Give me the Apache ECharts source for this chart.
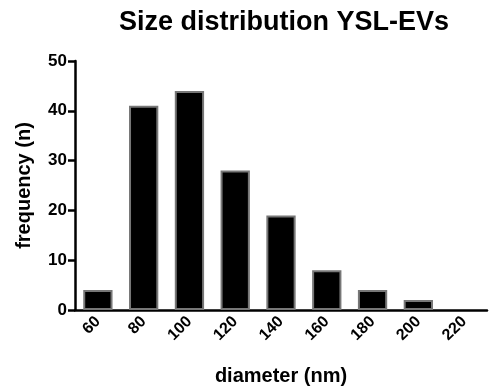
<!DOCTYPE html>
<html><head><meta charset="utf-8">
<script src="https://cdn.jsdelivr.net/npm/echarts@6/dist/echarts.min.js"></script>
<style>html,body{margin:0;padding:0;background:#fff}#c{width:489px;height:392px}</style>
</head><body><div id="c"></div>
<script>
const categories = ['60','80','100','120','140','160','180','200','220'];
const frequency = [4, 41, 44, 28, 19, 8, 4, 2, 0];
const yTicks = [0, 10, 20, 30, 40, 50];

const chart = echarts.init(document.getElementById('c'), null, {renderer:'canvas'});
const FF = '"Liberation Sans", Arial, sans-serif';
chart.setOption({
  animation:false,
  title:{text:'Size distribution YSL-EVs', left:279, textAlign:'center', top:4,
    textStyle:{fontFamily:FF, fontWeight:'bold', fontSize:27, color:'#000'}},
  grid:{left:75, right:2, top:61, bottom:82, containLabel:false, outerBoundsMode:'none'},
  xAxis:{type:'category', data:categories,
    name:'diameter (nm)', nameLocation:'middle', nameGap:56,
    nameTextStyle:{fontFamily:FF, fontWeight:'bold', fontSize:20, color:'#000'},
    axisLine:{lineStyle:{color:'#000', width:2.5}},
    axisTick:{alignWithLabel:true, length:7, lineStyle:{color:'#000', width:2.5}},
    axisLabel:{rotate:45, fontFamily:FF, fontWeight:'bold', fontSize:16, color:'#000', margin:9}},
  yAxis:{type:'value', min:0, max:50, interval:10,
    name:'frequency (n)', nameLocation:'middle', nameGap:41,
    nameTextStyle:{fontFamily:FF, fontWeight:'bold', fontSize:20, color:'#000'},
    axisLine:{show:true, lineStyle:{color:'#000', width:2.5}},
    axisTick:{show:true, length:7, lineStyle:{color:'#000', width:2.5}},
    splitLine:{show:false},
    axisLabel:{fontFamily:FF, fontWeight:'bold', fontSize:17, color:'#000', margin:8,
      formatter:v=>yTicks.includes(v)?String(v):''}},
  series:[{type:'bar', barWidth:'64%',
    data:frequency.map(v=>v===0?{value:v,itemStyle:{borderWidth:0}}:v),
    itemStyle:{color:'#000', borderColor:'#777', borderWidth:2}}]
});
</script></body></html>
